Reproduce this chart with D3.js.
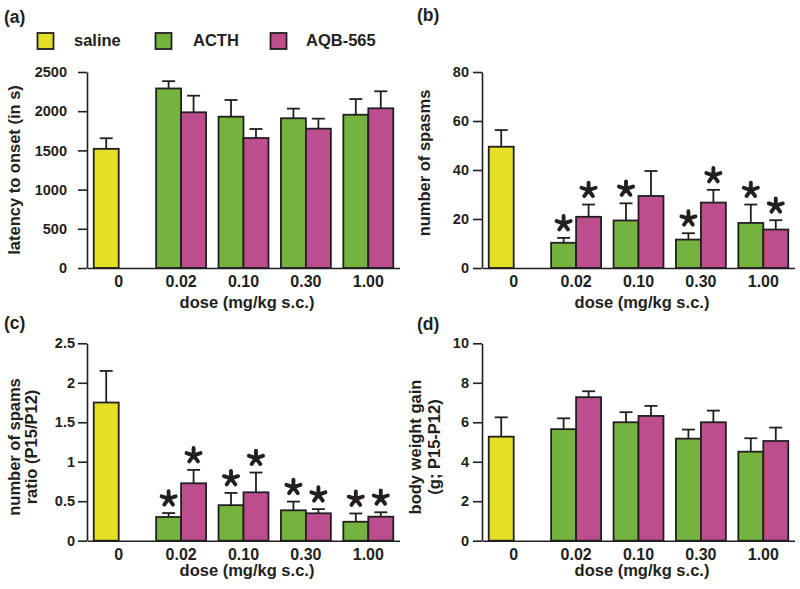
<!DOCTYPE html>
<html>
<head>
<meta charset="utf-8">
<script src="https://cdn.jsdelivr.net/npm/d3@7"></script>
<style>
  html, body { margin: 0; padding: 0; background: #ffffff; }
  svg { display: block; font-family: "Liberation Sans", Arial, Helvetica, sans-serif; font-weight: bold; }
</style>
</head>
<body>
<svg id="chart" width="800" height="589"></svg>
<script>
// ---------------- data ----------------
const doses = ["0", "0.02", "0.10", "0.30", "1.00"];
const treatDoses = ["0.02", "0.10", "0.30", "1.00"];
const seriesNames = ["saline", "ACTH", "AQB-565"];

// (a) latency to onset (s)
const latSaline = 1520, latSalineErr = 135;
const latACTH = [2290, 1930, 1910, 1955];
const latACTHErr = [93, 213, 123, 200];
const latAQB = [1986, 1658, 1777, 2037];
const latAQBErr = [212, 115, 128, 217];
const latTicks = [0, 500, 1000, 1500, 2000, 2500];

// (b) number of spasms
const spSaline = 49.5, spSalineErr = 6.8;
const spACTH = [10.3, 19.4, 11.6, 18.4];
const spACTHErr = [2.0, 7.0, 2.6, 7.5];
const spAQB = [20.9, 29.4, 26.7, 15.7];
const spAQBErr = [5.0, 10.2, 5.2, 3.8];
const spACTHStar = [true, true, true, true];
const spAQBStar = [true, false, true, true];
const spTicks = [0, 20, 40, 60, 80];

// (c) ratio of spasms P15/P12
const raSaline = 1.75, raSalineErr = 0.40;
const raACTH = [0.30, 0.45, 0.385, 0.24];
const raACTHErr = [0.05, 0.155, 0.11, 0.105];
const raAQB = [0.727, 0.613, 0.347, 0.304];
const raAQBErr = [0.17, 0.25, 0.053, 0.056];
const raACTHStar = [true, true, true, true];
const raAQBStar = [true, true, true, true];
const raTicks = [0, 0.5, 1, 1.5, 2, 2.5];

// (d) body weight gain (g)
const bwSaline = 5.27, bwSalineErr = 0.98;
const bwACTH = [5.65, 6.0, 5.17, 4.51];
const bwACTHErr = [0.55, 0.51, 0.46, 0.68];
const bwAQB = [7.27, 6.32, 6.0, 5.05];
const bwAQBErr = [0.30, 0.51, 0.59, 0.68];
const bwTicks = [0, 2, 4, 6, 8, 10];

// ---------------- style ----------------
const colors = { "saline": "#e4e026", "ACTH": "#74b43e", "AQB-565": "#bc4e8e" };
const ink = "#231f20";

const svg = d3.select("#chart");

function star(g, cx, cy) {
  const r = 7.4;
  let d = "";
  for (let i = 0; i < 5; i++) {
    const a = (-90 + i * 72) * Math.PI / 180;
    d += `M${cx},${cy}L${cx + r * Math.cos(a)},${cy + r * Math.sin(a)}`;
  }
  g.append("path").attr("d", d).attr("stroke", ink).attr("stroke-width", 3.9)
    .attr("stroke-linecap", "round").attr("fill", "none");
}

function panel(cfg) {
  const g = svg.append("g");
  const x = d3.scaleBand().domain(doses).range([cfg.x0 + 0.5, cfg.x0 + 312.5])
    .paddingInner(0.2).paddingOuter(0.1);
  const sub = d3.scaleBand().domain(["ACTH", "AQB-565"]).range([0, x.bandwidth()]);
  const y = d3.scaleLinear().domain([0, cfg.max]).range([cfg.yBottom, cfg.yTop]);

  const bars = [{ dose: "0", s: "saline", slot: "ACTH", v: cfg.saline, e: cfg.salineErr, star: false }];
  treatDoses.forEach((d, i) => {
    bars.push({ dose: d, s: "ACTH", slot: "ACTH", v: cfg.acth[i], e: cfg.acthErr[i], star: cfg.acthStar ? cfg.acthStar[i] : false });
    bars.push({ dose: d, s: "AQB-565", slot: "AQB-565", v: cfg.aqb[i], e: cfg.aqbErr[i], star: cfg.aqbStar ? cfg.aqbStar[i] : false });
  });

  bars.forEach(b => {
    const cx = x(b.dose) + sub(b.slot) + sub.bandwidth() / 2;
    const yt = y(b.v + b.e);
    g.append("line").attr("x1", cx).attr("x2", cx).attr("y1", y(b.v)).attr("y2", yt)
      .attr("stroke", ink).attr("stroke-width", 1.8);
    g.append("line").attr("x1", cx - 6.5).attr("x2", cx + 6.5).attr("y1", yt).attr("y2", yt)
      .attr("stroke", ink).attr("stroke-width", 1.8);
    if (b.star) star(g, cx, yt - 14.5);
  });

  g.selectAll("rect.bar").data(bars).join("rect")
    .attr("class", "bar")
    .attr("x", b => x(b.dose) + sub(b.slot))
    .attr("width", sub.bandwidth())
    .attr("y", b => y(b.v))
    .attr("height", b => y(0) - y(b.v))
    .attr("fill", b => colors[b.s])
    .attr("stroke", ink).attr("stroke-width", 1.8);

  const ya = g.append("g").attr("transform", `translate(${cfg.x0},0)`)
    .call(d3.axisLeft(y).tickValues(cfg.ticks).tickSize(9).tickSizeOuter(0)
      .tickPadding(cfg.tickPad).tickFormat(d3.format("")));
  ya.select(".domain").attr("stroke", ink).attr("stroke-width", 1.6);
  ya.selectAll(".tick line").attr("stroke", ink).attr("stroke-width", 1.6);
  ya.selectAll(".tick text").attr("fill", ink).style("font-size", "14.5px")
    .style("font-family", "'Liberation Sans', Arial, sans-serif").style("font-weight", "bold");

  const xa = g.append("g").attr("transform", `translate(0,${cfg.yBottom})`)
    .call(d3.axisBottom(x).tickSize(0).tickSizeOuter(0).tickPadding(7.5));
  xa.select(".domain").attr("stroke", ink).attr("stroke-width", 1.6);
  xa.selectAll(".tick text").attr("fill", ink).style("font-size", "16px")
    .style("font-family", "'Liberation Sans', Arial, sans-serif").style("font-weight", "bold");

  g.append("text").attr("x", cfg.x0 + 160).attr("y", cfg.xTitleY).attr("text-anchor", "middle")
    .attr("fill", ink).style("font-size", "16.5px").text("dose (mg/kg s.c.)");

  cfg.yTitle.forEach((t, i) => {
    g.append("text").attr("transform", `translate(${cfg.yTitleX[i]},${cfg.yTitleCY}) rotate(-90)`)
      .attr("text-anchor", "middle").attr("fill", ink).style("font-size", "16.5px").text(t);
  });

  g.append("text").attr("x", cfg.letterX).attr("y", cfg.letterY).attr("fill", ink)
    .style("font-size", "17.5px").text(cfg.letter);
}

panel({ letter: "(a)", letterX: 4, letterY: 23, x0: 87, yTop: 72, yBottom: 268, max: 2500,
  ticks: latTicks, tickPad: 11, saline: latSaline, salineErr: latSalineErr,
  acth: latACTH, acthErr: latACTHErr, aqb: latAQB, aqbErr: latAQBErr,
  xTitleY: 308, yTitle: ["latency to onset (in s)"], yTitleX: [20], yTitleCY: 170 });

panel({ letter: "(b)", letterX: 417, letterY: 21, x0: 482, yTop: 72, yBottom: 268, max: 80,
  ticks: spTicks, tickPad: 4, saline: spSaline, salineErr: spSalineErr,
  acth: spACTH, acthErr: spACTHErr, aqb: spAQB, aqbErr: spAQBErr,
  acthStar: spACTHStar, aqbStar: spAQBStar,
  xTitleY: 308, yTitle: ["number of spasms"], yTitleX: [430], yTitleCY: 163 });

panel({ letter: "(c)", letterX: 4, letterY: 329, x0: 87, yTop: 343.3, yBottom: 540.7, max: 2.5,
  ticks: raTicks, tickPad: 3, saline: raSaline, salineErr: raSalineErr,
  acth: raACTH, acthErr: raACTHErr, aqb: raAQB, aqbErr: raAQBErr,
  acthStar: raACTHStar, aqbStar: raAQBStar,
  xTitleY: 576, yTitle: ["number of spams", "ratio (P15/P12)"], yTitleX: [20, 37], yTitleCY: 447 });

panel({ letter: "(d)", letterX: 417, letterY: 330, x0: 482, yTop: 343.3, yBottom: 540.7, max: 10,
  ticks: bwTicks, tickPad: 4, saline: bwSaline, salineErr: bwSalineErr,
  acth: bwACTH, acthErr: bwACTHErr, aqb: bwAQB, aqbErr: bwAQBErr,
  xTitleY: 576, yTitle: ["body weight gain", "(g; P15-P12)"], yTitleX: [421, 440], yTitleCY: 447 });

const legX = [37.5, 155.5, 270.5];
const legTextX = [74, 193, 306];
const legend = svg.append("g");
seriesNames.forEach((s, i) => {
  legend.append("rect").attr("x", legX[i]).attr("y", 33).attr("width", 16).attr("height", 16)
    .attr("fill", colors[s]).attr("stroke", ink).attr("stroke-width", 1.8);
  legend.append("text").attr("x", legTextX[i]).attr("y", 46).attr("fill", ink)
    .style("font-size", "16.5px").text(s);
});
</script>
</body>
</html>
